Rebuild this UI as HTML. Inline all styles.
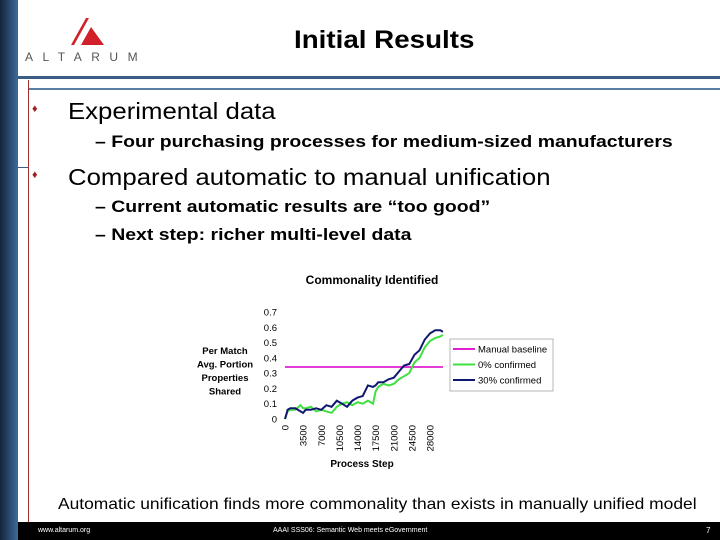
<!DOCTYPE html>
<html><head><meta charset="utf-8"><style>
body{margin:0;width:720px;height:540px;position:relative;background:#fff;font-family:"Liberation Sans",sans-serif;overflow:hidden}
.a{position:absolute;white-space:nowrap}
.s{transform-origin:0 0}
</style></head><body>
<div class="a" style="left:0;top:0;width:18px;height:540px;background:linear-gradient(90deg,#14233a,#3d6b9b)"></div>
<div class="a" style="left:18px;top:76px;width:702px;height:3px;background:#3a5d85"></div>
<div class="a" style="left:28px;top:88px;width:692px;height:2px;background:#5a7ea5"></div>
<div class="a" style="left:28px;top:80px;width:1px;height:442px;background:#a03030"></div>
<div class="a" style="left:18px;top:167px;width:10px;height:1px;background:#3a5d85"></div>
<svg class="a" style="left:20px;top:10px" width="140" height="55">
<polygon points="66,8 69,8 54,35 51,35" fill="#d0202a"/><polygon points="71,17 84,35 61,35" fill="#d0202a"/>
<text x="5" y="51" font-size="12" letter-spacing="9.5" fill="#555" font-family="Liberation Sans">ALTARUM</text></svg>
<div class="a s" style="left:294px;top:26px;font-size:25px;font-weight:bold;transform:scaleX(1.11)">Initial Results</div>
<div class="a" style="left:32px;top:103px;color:#a02020;font-size:11px">♦</div>
<div class="a s" style="left:68px;top:98px;font-size:23px;transform:scaleX(1.12)">Experimental data</div>
<div class="a s" style="left:95px;top:132px;font-size:17px;font-weight:bold;transform:scaleX(1.143)">– Four purchasing processes for medium-sized manufacturers</div>
<div class="a" style="left:32px;top:169px;color:#a02020;font-size:11px">♦</div>
<div class="a s" style="left:68px;top:164px;font-size:23px;transform:scaleX(1.12)">Compared automatic to manual unification</div>
<div class="a s" style="left:95px;top:197px;font-size:17px;font-weight:bold;transform:scaleX(1.143)">– Current automatic results are “too good”</div>
<div class="a s" style="left:95px;top:225px;font-size:17px;font-weight:bold;transform:scaleX(1.143)">– Next step: richer multi-level data</div>
<svg class="a" id="chart" style="left:195px;top:265px" width="365" height="210"></svg>
<div class="a s" style="left:58px;top:496px;font-size:16px;transform:scaleX(1.088)">Automatic unification finds more commonality than exists in manually unified model</div>
<div class="a" style="left:18px;top:522px;width:702px;height:18px;background:#000"></div>
<div class="a" style="left:38px;top:527px;font-size:7px;color:#fff">www.altarum.org</div>
<div class="a" style="left:273px;top:527px;font-size:7px;color:#fff">AAAI SSS06:  Semantic Web meets eGovernment</div>
<div class="a" style="left:706px;top:526px;font-size:8px;color:#fff">7</div>
<script>
const xTicks=[0,3500,7000,10500,14000,17500,21000,24500,28000];
const yTicks=[0,0.1,0.2,0.3,0.4,0.5,0.6,0.7];
const baseline=0.34;
const steps=[0,500,1000,2000,3000,3500,4000,5000,6000,7000,8000,9000,10000,11000,12000,13000,14000,15000,16000,17000,17500,18000,19000,20000,21000,22000,23000,24000,25000,26000,27000,28000,29000,30000,30500];
const conf30=[0,0.06,0.07,0.07,0.05,0.04,0.06,0.06,0.07,0.06,0.09,0.08,0.12,0.1,0.08,0.12,0.14,0.15,0.22,0.21,0.22,0.24,0.24,0.26,0.27,0.31,0.35,0.36,0.42,0.45,0.52,0.56,0.58,0.58,0.57];
const conf0=[0,0.05,0.06,0.06,0.09,0.07,0.07,0.08,0.05,0.06,0.05,0.04,0.08,0.1,0.11,0.09,0.11,0.1,0.12,0.1,0.18,0.21,0.23,0.22,0.23,0.26,0.28,0.3,0.37,0.4,0.47,0.51,0.53,0.54,0.55];
const NS="http://www.w3.org/2000/svg",svg=document.getElementById('chart');
const X=v=>90+v*(145/28000), Y=v=>154-v*(107/0.7);
function el(t,a,txt){const e=document.createElementNS(NS,t);for(const k in a)e.setAttribute(k,a[k]);if(txt!=null)e.textContent=txt;svg.appendChild(e);return e;}
let e;
e=el('text',{x:177,y:19,'font-size':12,'font-weight':'bold','text-anchor':'middle'},'Commonality Identified');


['Per Match','Avg. Portion','Properties','Shared'].forEach((t,i)=>{e=el('text',{x:30,y:89+i*13.5,'font-size':9.5,'font-weight':'bold','text-anchor':'middle'},t);

});
yTicks.forEach(v=>{e=el('text',{x:82,y:Y(v)+3.5,'font-size':9.5,'text-anchor':'end'},v===0?'0':v.toFixed(1));

});
xTicks.forEach(v=>{e=el('text',{x:0,y:0,'font-size':9.5,'text-anchor':'end',transform:`translate(${X(v)+3.5},${Y(0)+6}) rotate(-90)`},String(v));

});
e=el('text',{x:167,y:202,'font-size':10,'font-weight':'bold','text-anchor':'middle'},'Process Step');


e=el('line',{x1:X(0),x2:X(30500),y1:Y(baseline),y2:Y(baseline),stroke:'#e020d0','stroke-width':1.8});


function line(vals,c,n){const p=steps.map((s,i)=>X(s).toFixed(1)+','+Y(vals[i]).toFixed(1)).join(' ');
const l=el('polyline',{points:p,fill:'none',stroke:c,'stroke-width':2});

}
line(conf0,'#40e040','line-0-confirmed');
line(conf30,'#101870','line-30-confirmed');
e=el('rect',{x:255,y:74,width:103,height:52,fill:'#fff',stroke:'#999','stroke-width':0.7});


[['Manual baseline','#e020d0'],['0% confirmed','#40e040'],['30% confirmed','#101870']].forEach((d,i)=>{const y=84+i*15.5;
el('line',{x1:258,x2:280,y1:y,y2:y,stroke:d[1],'stroke-width':2});
e=el('text',{x:283,y:y+3.5,'font-size':9.5},d[0]);

});
</script>
</body></html>
